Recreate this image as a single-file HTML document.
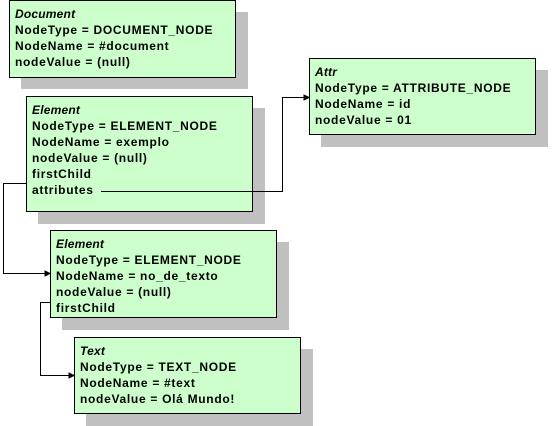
<!DOCTYPE html>
<html><head><style>
body{margin:0;width:554px;height:426px;background:#fff;position:relative;overflow:hidden;font-family:"Liberation Sans",Arial,sans-serif;}
.sh{position:absolute;background:#c0c0c0;}
.b{position:absolute;background:#ccffcc;border:1px solid #000;box-sizing:border-box;padding:5px 0 0 5px;font-size:12px;font-weight:bold;line-height:16px;letter-spacing:0.7px;color:#000;white-space:nowrap;}
.b i{display:block;letter-spacing:0.2px}
</style></head><body>
<div class="sh" style="left:21px;top:12px;width:227px;height:77px"></div>
<div class="b" style="left:9px;top:0;width:227px;height:78px"><i>Document</i>NodeType = DOCUMENT_NODE<br>NodeName = #document<br>nodeValue = (null)</div>

<div class="sh" style="left:38px;top:108px;width:227px;height:116px"></div>
<div class="b" style="left:26px;top:96px;width:227px;height:116px"><i>Element</i>NodeType = ELEMENT_NODE<br>NodeName = exemplo<br>nodeValue = (null)<br>firstChild<br>attributes</div>

<div class="sh" style="left:321px;top:70px;width:227px;height:77px"></div>
<div class="b" style="left:309px;top:58px;width:227px;height:77px"><i>Attr</i>NodeType = ATTRIBUTE_NODE<br>NodeName = id<br>nodeValue = 01</div>

<div class="sh" style="left:62px;top:242px;width:227px;height:88px"></div>
<div class="b" style="left:50px;top:230px;width:227px;height:88px"><i>Element</i>NodeType = ELEMENT_NODE<br>NodeName = no_de_texto<br>nodeValue = (null)<br>firstChild</div>

<div class="sh" style="left:86px;top:349px;width:227px;height:77px"></div>
<div class="b" style="left:74px;top:337px;width:227px;height:77px"><i>Text</i>NodeType = TEXT_NODE<br>NodeName = #text<br>nodeValue = Olá Mundo!</div>

<svg width="554" height="426" style="position:absolute;left:0;top:0" fill="none" stroke="#000" stroke-width="1">
<polyline points="101,191.5 282.5,191.5 282.5,97.5 305,97.5"/>
<polygon points="309,97.5 304,95 304,100" fill="#000"/>
<polyline points="26,183.5 3.5,183.5 3.5,273.5 46,273.5"/>
<polygon points="50,273.5 45,271 45,276" fill="#000"/>
<polyline points="50,302.5 40.5,302.5 40.5,375.5 70,375.5"/>
<polygon points="74,375.5 69,373 69,378" fill="#000"/>
</svg>
</body></html>
